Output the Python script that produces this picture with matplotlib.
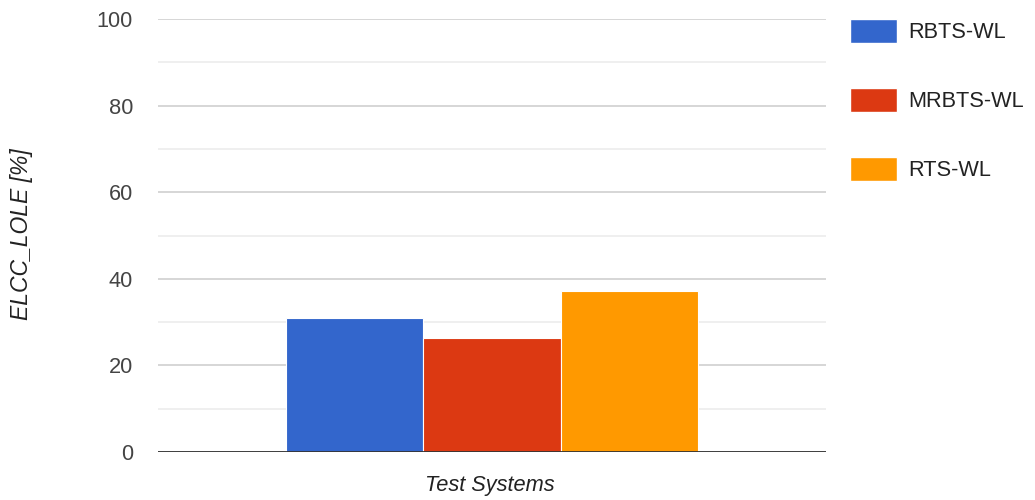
import matplotlib
matplotlib.use("Agg")
import matplotlib.pyplot as plt
from matplotlib.patches import Patch
import numpy as np

plt.rcParams['font.family'] = ['Liberation Sans', 'DejaVu Sans']

series = ["RBTS-WL", "MRBTS-WL", "RTS-WL"]
values = [30.9, 26.3, 37.2]
colors = ["#3366cc", "#dc3912", "#ff9900"]
category = "Test Systems"
y_label = "ELCC_LOLE [%]"
y_ticks = [0, 20, 40, 60, 80, 100]

fig = plt.figure(figsize=(10.35, 5.0), dpi=100)
ax = fig.add_axes([158 / 1035, 48 / 500, 668 / 1035, 433 / 500])

group_width = 0.617
n = len(series)
bw = group_width / n
offsets = (np.arange(n) - (n - 1) / 2) * bw
for off, v, c, name in zip(offsets, values, colors, series):
    ax.bar(off, v, width=bw, color=c, edgecolor="white", linewidth=0.8, label=name, zorder=3)

ax.set_xlim(-0.5, 0.5)
ax.set_ylim(0, 100)
ax.set_yticks(y_ticks)
ax.set_yticks(np.arange(10, 100, 20), minor=True)
ax.set_xticks([])
ax.grid(axis="y", which="major", color="#cccccc", linewidth=1.1, zorder=0)
ax.grid(axis="y", which="minor", color="#ebebeb", linewidth=1.1, zorder=0)
ax.axhline(0, color="#333333", linewidth=1.3, zorder=4)
for s in ax.spines.values():
    s.set_visible(False)
ax.tick_params(axis="y", which="both", length=0, pad=18, labelsize=15.7, labelcolor="#444444")

fig.text(490 / 1035, 1 - 486 / 500, category, ha="center", va="center",
         fontsize=15.7, style="italic", color="#222222")
fig.text(22 / 1035, 1 - 234 / 500, y_label, ha="center", va="center",
         rotation=90, fontsize=16.5, style="italic", color="#222222")

handles = [Patch(facecolor=c, edgecolor="white") for c in colors]
fig.legend(handles, series, loc="upper left", bbox_to_anchor=(850 / 1035, 1 - 19 / 500),
           frameon=False, fontsize=15.7, handlelength=2.16, handleheight=1.3,
           handletextpad=0.5, labelspacing=2.05, borderpad=0, borderaxespad=0,
           labelcolor="#222222")

fig.savefig("out.png", dpi=100)
